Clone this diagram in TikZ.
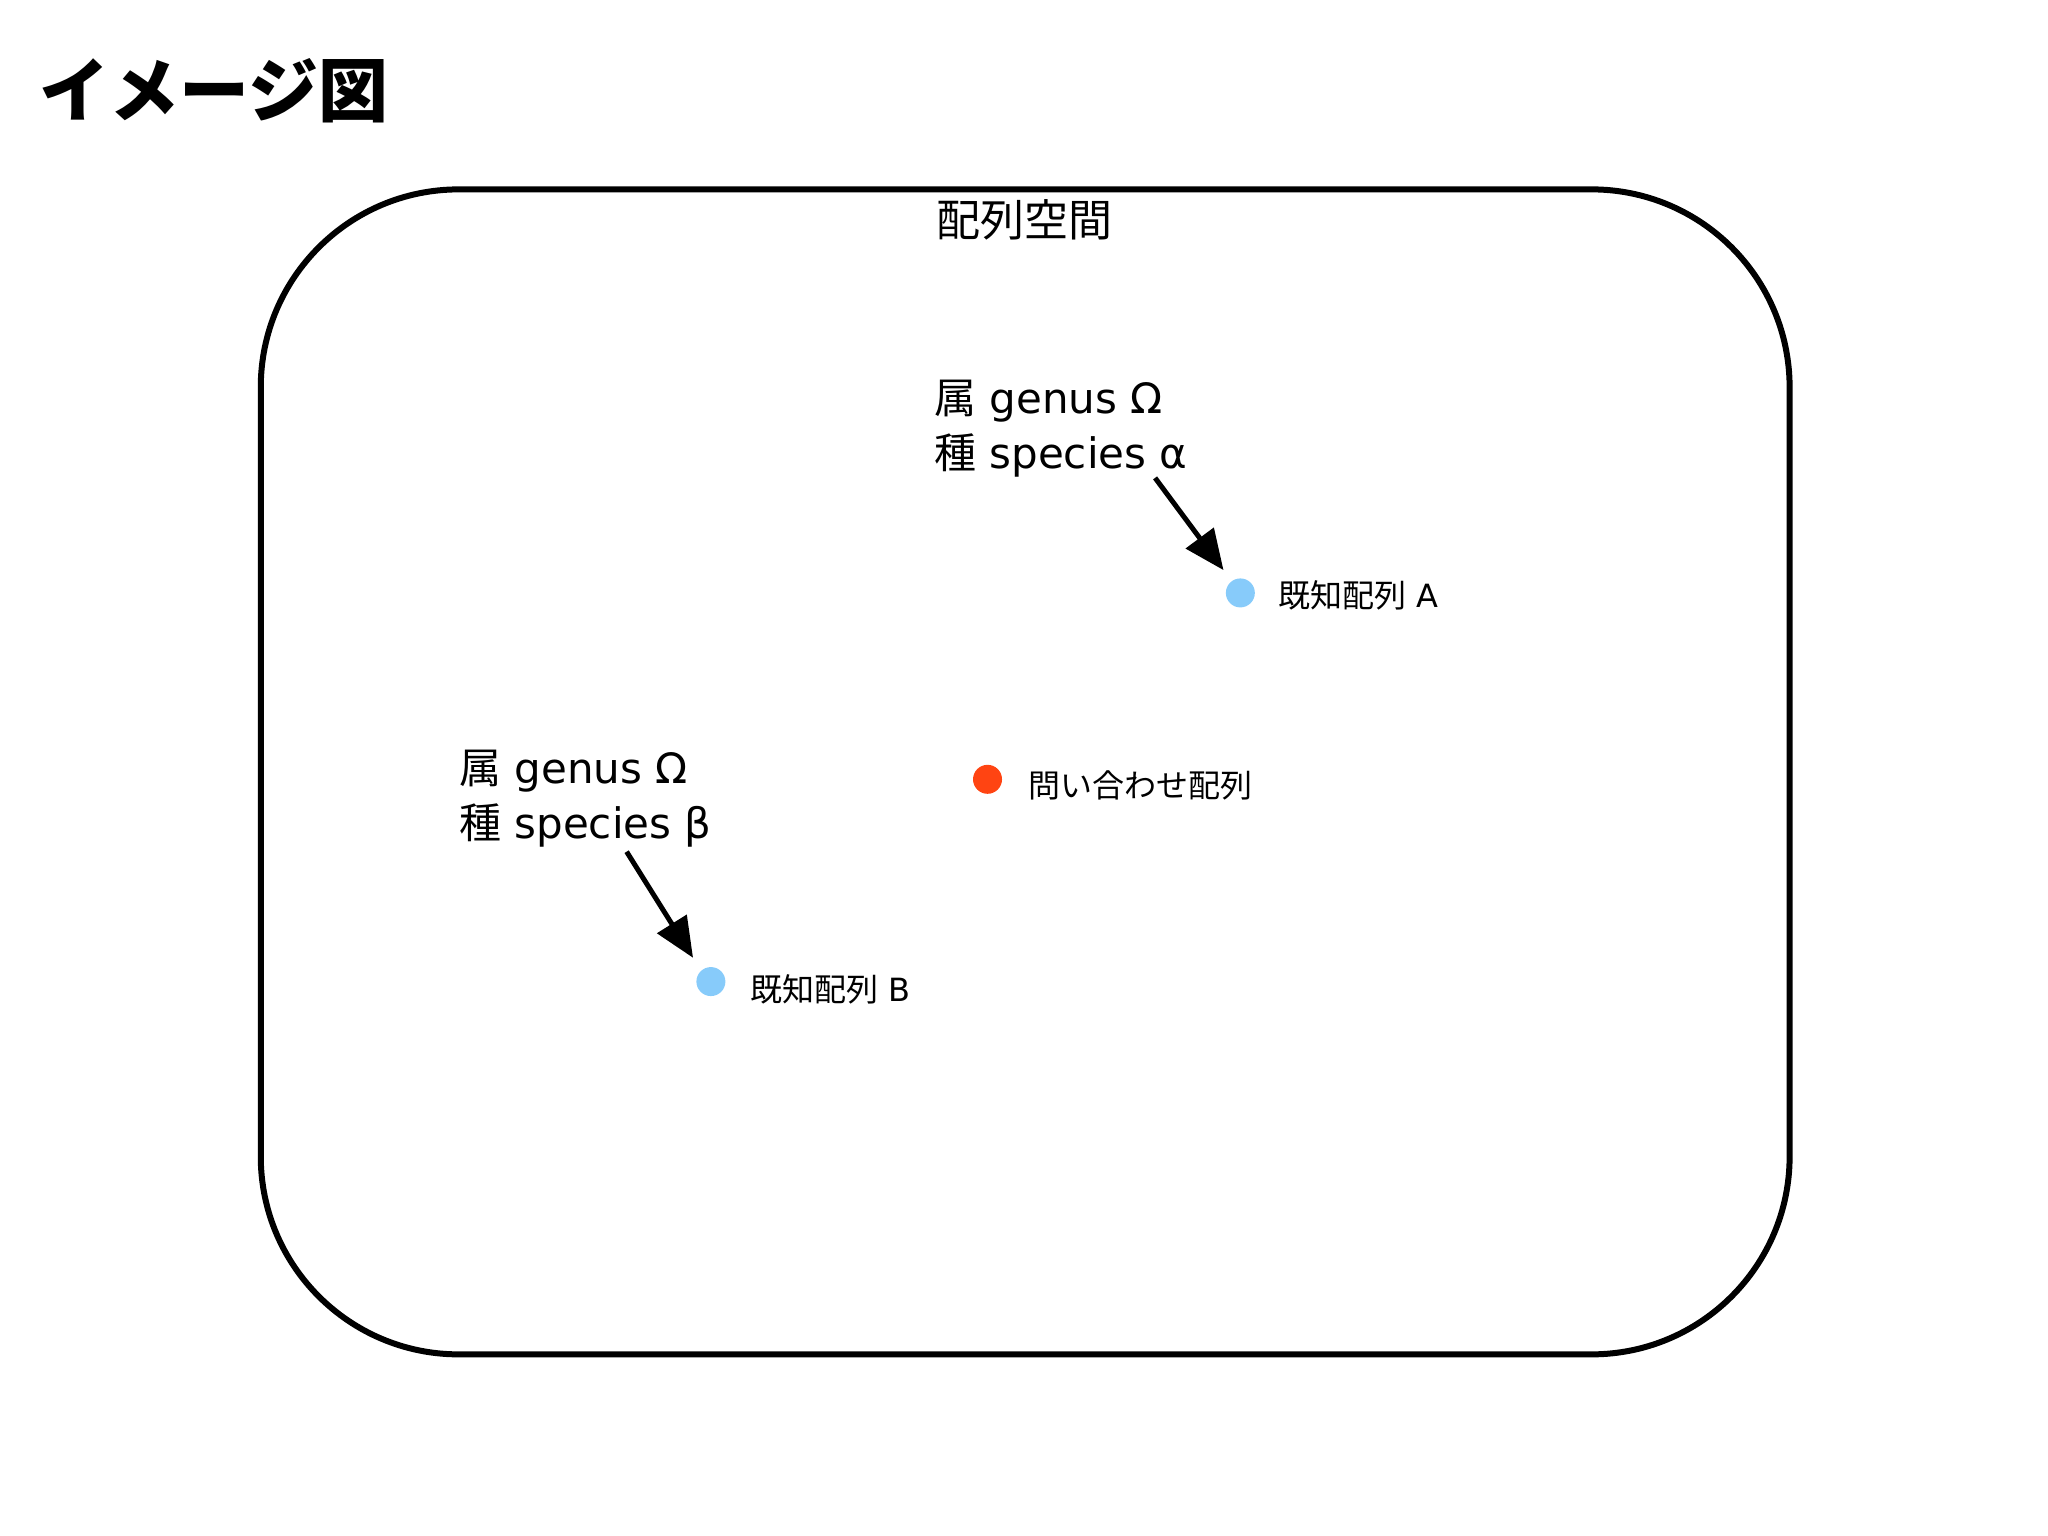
\documentclass[tikz,border=0pt]{standalone}
\usepackage{fontspec}
\setmainfont{DejaVu Sans}
\newfontfamily\cjk{Noto Sans CJK JP}
\usetikzlibrary{arrows.meta}
\definecolor{known}{HTML}{87CBFA}
\definecolor{query}{HTML}{FF4412}
\tikzset{
  big/.style={font=\fontsize{42}{55}\selectfont, anchor=west, inner sep=0pt, align=left},
  small/.style={font=\fontsize{32}{40}\selectfont, anchor=west, inner sep=0pt},
  dotk/.style={circle, fill=known, minimum size=29pt, inner sep=0pt},
  dotq/.style={circle, fill=query, minimum size=29pt, inner sep=0pt},
  arr/.style={line width=5pt, -{Triangle[length=40pt,width=34pt]}}
}
\begin{document}
\begin{tikzpicture}[x=0.9915pt,y=-0.9915pt]
\useasboundingbox (0,0) rectangle (2065.6,1548.2);
\node[font=\fontsize{70}{74}\selectfont\cjk\bfseries, anchor=west, inner sep=0pt] (title) at (40,92) {イメージ図};
\draw[line width=6pt, rounded corners=198pt] (263,191) rectangle (1805,1366);
\node[font=\fontsize{44}{50}\selectfont\cjk, inner sep=0pt] (space) at (1033,222) {配列空間};
\node[big] (la) at (942,432) {{\cjk 属} genus Ω\\{\cjk 種} species α};
\node[big] (lb) at (463,805) {{\cjk 属} genus Ω\\{\cjk 種} species β};
\node[dotk] (da) at (1251,598) {};
\node[dotk] (db) at (717,990) {};
\node[dotq] (dq) at (996,786) {};
\node[small] (ta) at (1289,600) {{\cjk 既知配列} A};
\node[small] (tb) at (757,998) {{\cjk 既知配列} B};
\node[small] (tq) at (1037,792) {\cjk 問い合わせ配列};
\coordinate (sa) at (1165,482);
\coordinate (ea) at (1234,575);
\coordinate (sb) at (632,859);
\coordinate (eb) at (699,966);
\draw[arr] (sa) -- (ea);
\draw[arr] (sb) -- (eb);
\end{tikzpicture}
\end{document}
